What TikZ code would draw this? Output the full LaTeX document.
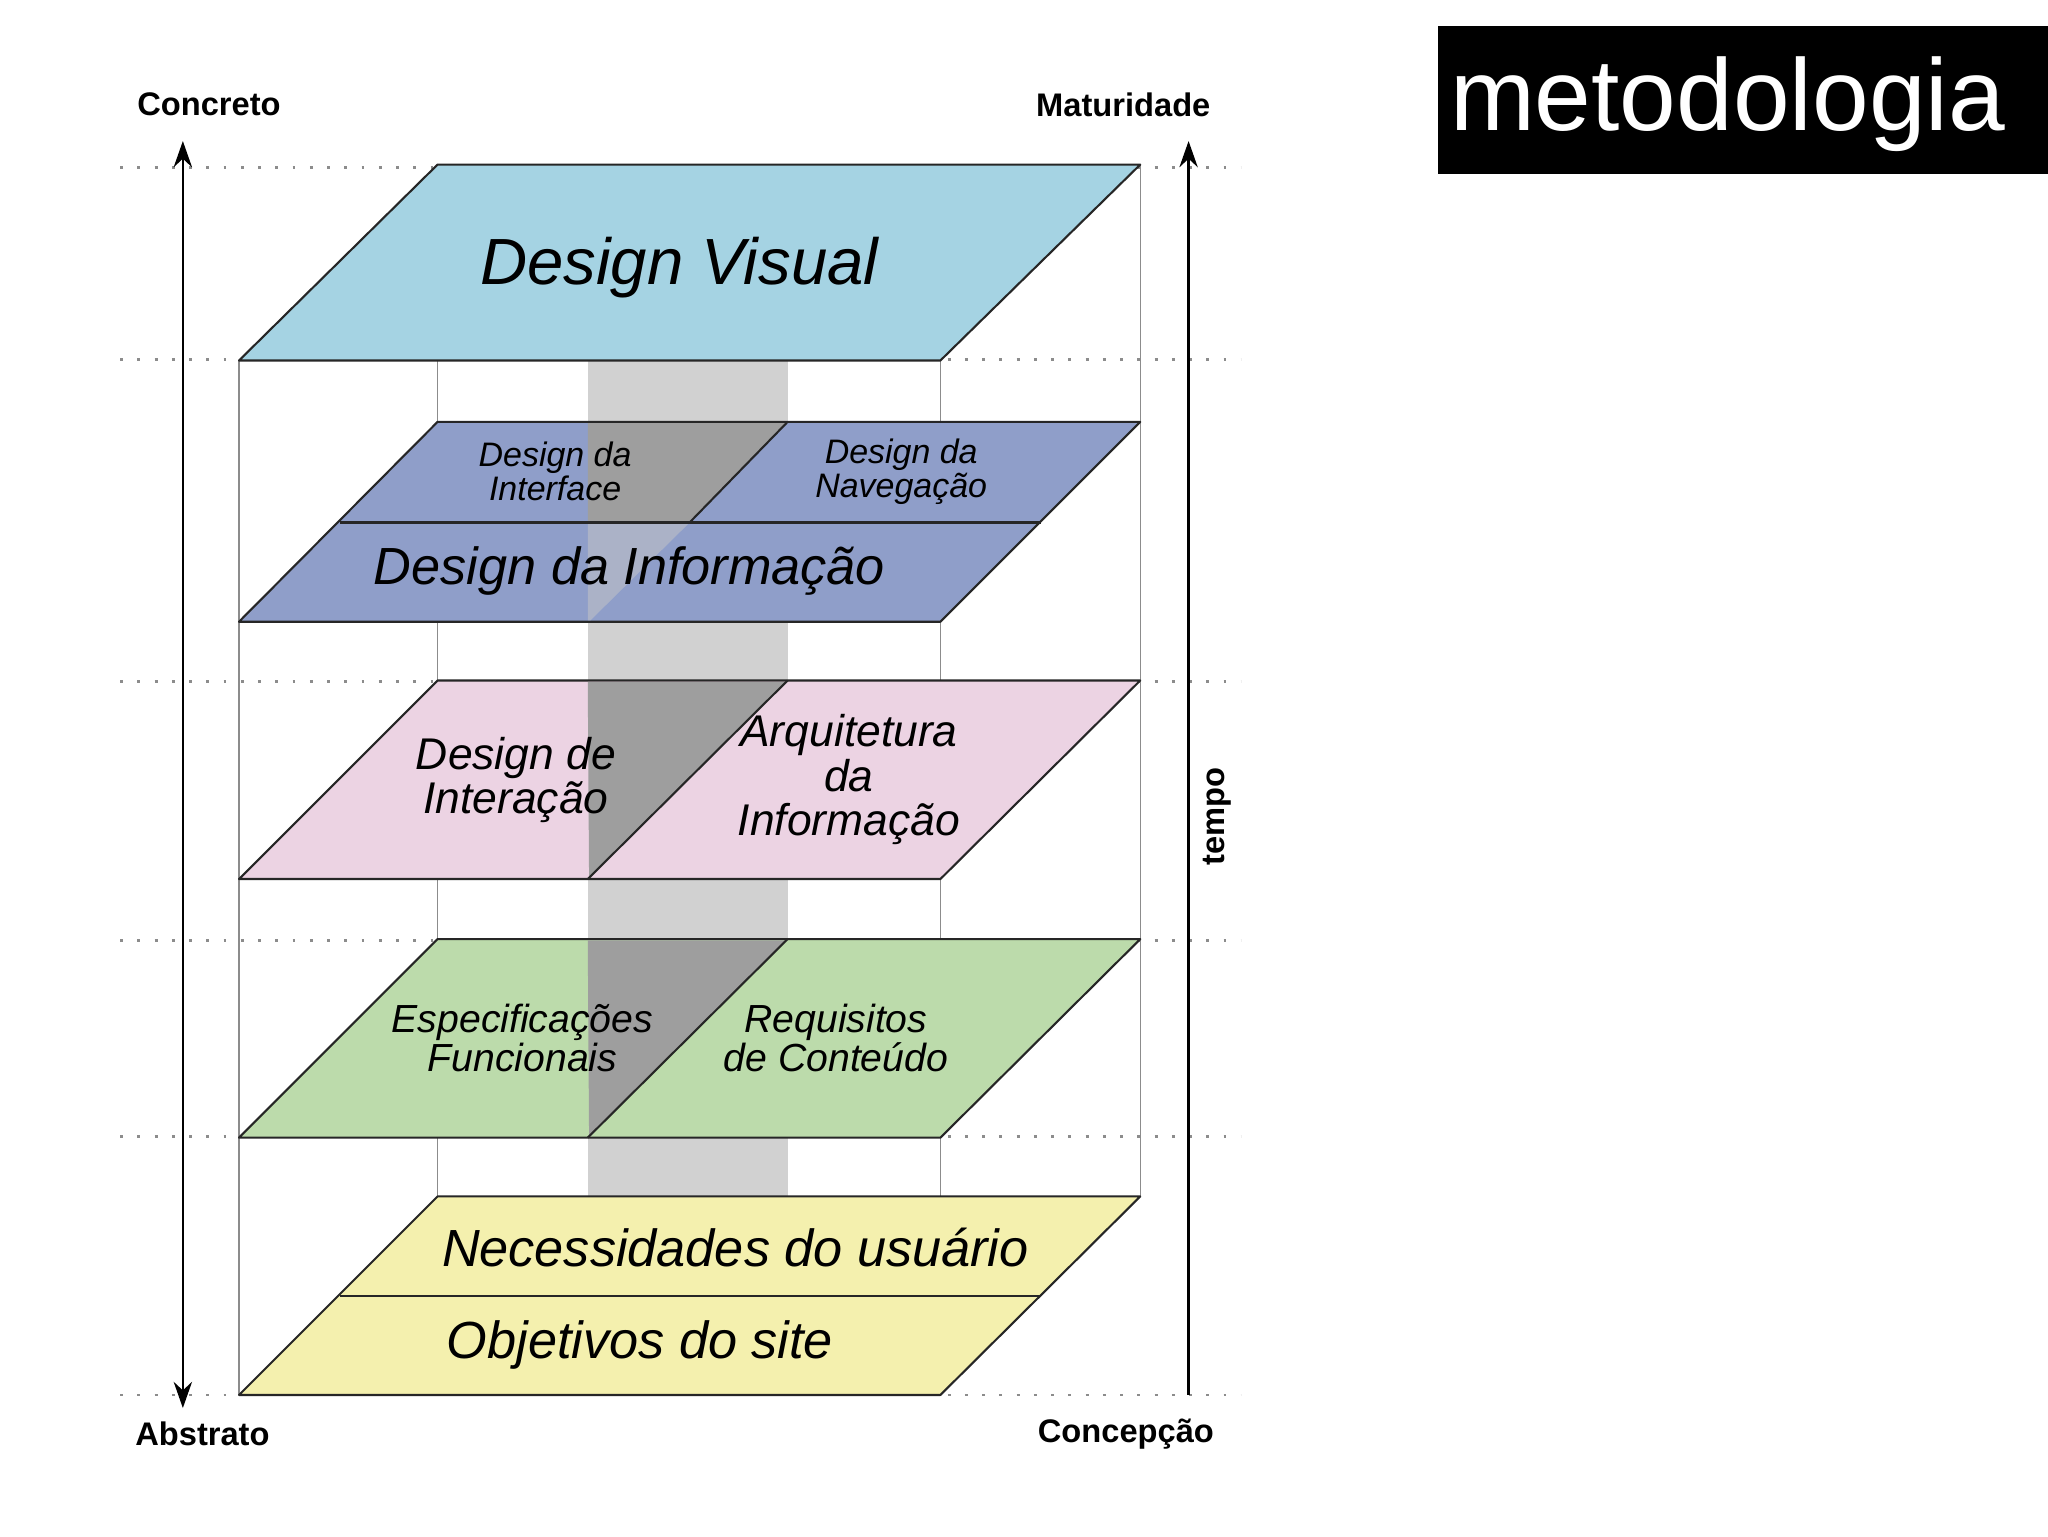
\documentclass[tikz,border=0pt]{standalone}
\usepackage{fontspec}
\usetikzlibrary{arrows.meta}
\setmainfont{Liberation Sans}
\begin{document}
\begin{tikzpicture}[x=1pt,y=-1pt,
 lay/.style={draw=black!85,line width=1.6pt,line join=round},
 vl/.style={draw=black!45,line width=1pt},
 dl/.style={draw=black!45,line width=2.2pt,dash pattern=on 2.2pt off 11pt},
 lt/.style={font=\itshape\fontsize{#1}{#1}\selectfont,align=center,inner sep=0pt},
 lab/.style={font=\bfseries\fontsize{25}{25}\selectfont,inner sep=0pt}]
\useasboundingbox (0,0) rectangle (1568,1176);
\fill[white] (0,0) rectangle (1568,1176);
% dotted guides
\foreach \y in {128,275,522,720,870,1068}{\draw[dl] (92,\y) -- (950,\y);}
% vertical thin lines
\draw[vl] (183,276) -- (183,1068);
\draw[vl] (720,276) -- (720,1068);
\draw[vl] (873,126) -- (873,916);
\draw[vl] (335,276) -- (335,916);
% gray column
\fill[black!18] (450,276) rectangle (603,916);
\fill[white] (603,276) rectangle (720,916);
% layer 5 yellow
\filldraw[lay,fill=yellow!30!white!95!black] (335,916) -- (873,916) -- (720,1068) -- (183,1068) -- cycle;
\draw[lay] (260,992) -- (797,992);
% layer 4 green
\filldraw[lay,fill={rgb,255:red,188;green,219;blue,171}] (335,719) -- (873,719) -- (720,871) -- (183,871) -- cycle;
\fill[black!38] (450,720) -- (602,720) -- (451,870) -- cycle;
\draw[lay] (603,719) -- (450,871);
% layer 3 pink
\filldraw[lay,fill={rgb,255:red,236;green,211;blue,227}] (335,521) -- (873,521) -- (720,673) -- (183,673) -- cycle;
\fill[black!38] (450,522) -- (602,522) -- (451,672) -- cycle;
\draw[lay] (603,521) -- (450,673);
% layer 2 blue
\filldraw[lay,fill={rgb,255:red,143;green,158;blue,201}] (335,323) -- (873,323) -- (720,476) -- (183,476) -- cycle;
\fill[black!38] (450,324) -- (602,324) -- (528,399) -- (450,399) -- cycle;
\fill[black!22,opacity=.5] (450,401) -- (527,401) -- (452,475) -- (450,475) -- cycle;
\draw[lay] (603,323) -- (528,400);
\draw[lay] (260,400) -- (797,400);
% layer 1 top
\filldraw[lay,fill={rgb,255:red,165;green,211;blue,227}] (335,126) -- (873,126) -- (720,276) -- (183,276) -- cycle;
% arrows
\coordinate (la) at (140,1078); \coordinate (lb) at (140,108);
\coordinate (ra) at (910,1068); \coordinate (rb) at (910,108);
\draw[line width=2pt,{Stealth[length=20pt,width=14pt]}-{Stealth[length=20pt,width=14pt]}] (la) -- (lb);
\draw[line width=2pt,-{Stealth[length=20pt,width=14pt]}] (ra) -- (rb);
% labels
\node[lab] (conc) at (160,80) {Concreto};
\node[lab] (mat) at (860,80) {Maturidade};
\node[lab] (abs) at (155,1098) {Abstrato};
\node[lab] (concep) at (862,1098) {Concepção};
\node[lab,rotate=90] (tempo) at (932,625) {tempo};
% layer texts
\node[lt=50] (dv) at (520,205) {Design Visual};
\node[lt=26] (dint) at (425,361) {Design da\\Interface};
\node[lt=26] (dnav) at (690,361) {Design da\\Navegação};
\node[lt=40] (dinf) at (482,437) {Design da Informação};
\node[lt=34] (dia) at (395,597) {Design de\\Interação};
\node[lt=34] (aia) at (650,597) {Arquitetura\\da\\Informação};
\node[lt=30] (ef) at (400,795) {Especificações\\Funcionais};
\node[lt=30] (rc) at (640,795) {Requisitos\\de Conteúdo};
\node[lt=40] (nu) at (563,955) {Necessidades do usuário};
\node[lt=40] (os) at (490,1030) {Objetivos do site};
% title
\fill[black] (1101,20) rectangle (1568,133);
\node[text=white,font=\fontsize{78}{78}\selectfont,inner sep=0pt,anchor=west] (title) at (1110,80) {metodologia};
\end{tikzpicture}
\end{document}
